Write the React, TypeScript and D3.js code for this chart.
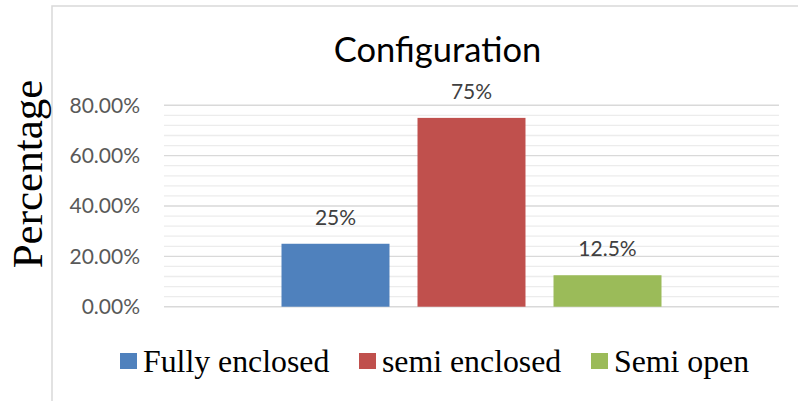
import React from 'react'
import * as d3 from 'd3'

const width = 798
const height = 401

const series = ['Fully enclosed', 'semi enclosed', 'Semi open']
const values = [0.25, 0.75, 0.125]
const valueLabels = ['25%', '75%', '12.5%']
const colors = ['#4F81BD', '#C0504D', '#9BBB59']
const yTicks = [0, 0.2, 0.4, 0.6, 0.8]

const plot = { left: 164, right: 779, top: 105.3, bottom: 306.7 }
const sansFont = 'Lato, "Open Sans", sans-serif'
const serifFont = '"Liberation Serif", "DejaVu Serif", serif'

const App = () => {
  const y = d3.scaleLinear().domain([0, 0.8]).range([plot.bottom, plot.top])
  const x = d3
    .scaleBand<string>()
    .domain(series)
    .range([plot.left, plot.right])
    .paddingInner(0.206)
    .paddingOuter(0.864)

  const minorTicks = d3.range(0, 0.8001, 0.04).filter(
    (t) => !yTicks.some((m) => Math.abs(m - t) < 1e-6)
  )

  // legend swatch positions
  const legendSwatch = [120, 359, 591]

  return (
    <svg
      width={width}
      height={height}
      style={{ position: 'absolute', left: 0, top: 0, background: '#fff' }}
    >
      <rect x={52} y={6} width={800} height={420} fill="#fff" stroke="#d9d9d9" strokeWidth={1.5} />

      <text
        x={437.5}
        y={62}
        textAnchor="middle"
        fontFamily={sansFont}
        fontSize={34.5}
        fill="#000"
      >
        Configuration
      </text>

      <text
        transform={`translate(42,174) rotate(-90)`}
        textAnchor="middle"
        fontFamily={serifFont}
        fontSize={43}
        fill="#000"
      >
        Percentage
      </text>

      {minorTicks.map((t, i) => (
        <line
          key={'m' + i}
          x1={plot.left}
          x2={plot.right}
          y1={y(t)}
          y2={y(t)}
          stroke="#ececec"
          strokeWidth={1.3}
        />
      ))}
      {yTicks.map((t, i) => (
        <g key={'t' + i}>
          <line
            x1={plot.left}
            x2={plot.right}
            y1={y(t)}
            y2={y(t)}
            stroke="#d9d9d9"
            strokeWidth={1.4}
          />
          <text
            x={140}
            y={y(t)}
            dy="0.35em"
            textAnchor="end"
            fontFamily={sansFont}
            fontSize={21}
            fill="#595959"
          >
            {(t * 100).toFixed(2) + '%'}
          </text>
        </g>
      ))}

      {series.map((s, i) => (
        <g key={s}>
          <rect
            x={x(s)}
            y={y(values[i])}
            width={x.bandwidth()}
            height={y(0) - y(values[i])}
            fill={colors[i]}
          />
          <text
            x={(x(s) as number) + x.bandwidth() / 2}
            y={y(values[i]) - 19}
            textAnchor="middle"
            fontFamily={sansFont}
            fontSize={21}
            fill="#404040"
          >
            {valueLabels[i]}
          </text>
        </g>
      ))}

      {series.map((s, i) => (
        <g key={'l' + s}>
          <rect x={legendSwatch[i]} y={353} width={17} height={16} fill={colors[i]} />
          <text
            x={legendSwatch[i] + 23}
            y={372}
            fontFamily={serifFont}
            fontSize={31.8}
            fill="#000"
          >
            {s}
          </text>
        </g>
      ))}
    </svg>
  )
}

export default App
